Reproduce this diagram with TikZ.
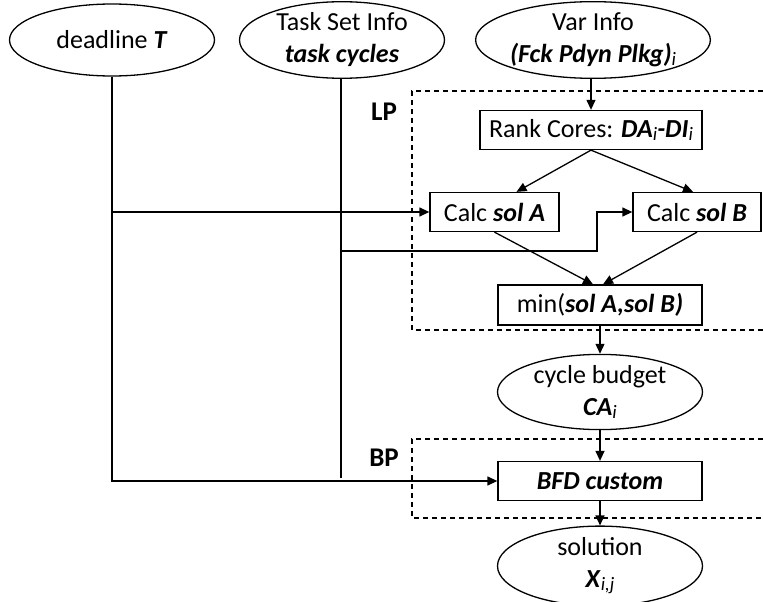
\documentclass[tikz,border=0pt]{standalone}
\usepackage{fontspec}
\setmainfont{Carlito}
\usetikzlibrary{shapes.geometric,arrows.meta,calc}

\newcommand{\bi}[1]{\textbf{\textit{#1}}}
\newcommand{\sub}[1]{\raisebox{-0.12em}{\fontsize{19}{19}\selectfont\itshape #1}}

\tikzset{
  base/.style={font=\fontsize{26}{32}\selectfont, inner sep=0pt, line width=1.3pt},
  oval/.style={base, draw, ellipse, minimum width=205pt, minimum height=72pt, align=center},
  stepbox/.style={base, draw, rectangle, minimum height=39pt, align=center},
  flow/.style={line width=1.3pt, -{Triangle[length=10pt,width=9pt]}},
  wire/.style={line width=1.3pt},
  zone/.style={line width=1.2pt, dash pattern=on 5pt off 4pt},
  tag/.style={font=\fontsize{27}{29}\selectfont\bfseries, inner sep=0pt}
}

\begin{document}
\begin{tikzpicture}[x=1pt, y=-1pt]
\useasboundingbox (0,0) rectangle (763,602);

% input ovals
\node[oval] (dl) at (112,40) {deadline \bi{T}};
\node[oval] (ts) at (342,40) {Task Set Info\\ \bi{task cycles}};
\node[oval] (vi) at (593,40) {Var Info\\ \bi{(Fck Pdyn Plkg)}\sub{i}};

% LP stage
\draw[zone] (763,91) -- (412,91) -- (412,330) -- (763,330);
\node[tag] (lp) at (384,112) {LP};
\node[stepbox, minimum width=222pt] (rank) at (591,130) {Rank Cores: \bi{DA}\sub{i}\bi{-DI}\sub{i}};
\node[stepbox, minimum width=129pt] (calcA) at (494.5,212) {Calc \bi{sol A}};
\node[stepbox, minimum width=128pt] (calcB) at (697,212) {Calc \bi{sol B}};
\node[stepbox, minimum width=204pt, minimum height=40pt] (minb) at (600,305) {min(\bi{sol A,sol B)}};

% cycle budget
\node[oval, minimum height=70pt] (cb) at (600,392) {cycle budget\\ \bi{CA}\sub{i}};

% BP stage
\draw[zone] (763,439) -- (412,439) -- (412,518) -- (763,518);
\node[tag] (bp) at (384,458) {BP};
\node[stepbox, minimum width=204pt] (bfd) at (600,481) {\bi{BFD custom}};

% result
\node[oval] (sol) at (600,566) {solution\\ \bi{X}\sub{i,j}};

% main flow
\draw[flow] (rank.north |- vi.south) -- (rank.north);
\draw[flow] (rank.south) -- ([xshift=22pt]calcA.north);
\draw[flow] (rank.south) -- ([xshift=-4pt]calcB.north);
\draw[flow] (calcA.south) -- ([xshift=-7pt]minb.north);
\draw[flow] (calcB.south) -- ([xshift=3pt]minb.north);
\draw[flow] (minb.south) -- (cb.north);
\draw[flow] (cb.south) -- (bfd.north);
\draw[flow] (bfd.south) -- (sol.north);

% deadline feeds
\draw[flow] (dl.south) |- (bfd.west);
\draw[flow] (calcA.west -| dl.south) -- (calcA.west);

% task cycles feeds
\coordinate (tEnd) at (341,478);
\coordinate (tSplit) at (341,251);
\coordinate (tBend) at (597,251);
\draw[wire] (ts.south -| tEnd) -- (tEnd);
\draw[flow] (tSplit) -- (tBend) |- (calcB.west);
\end{tikzpicture}
\end{document}
